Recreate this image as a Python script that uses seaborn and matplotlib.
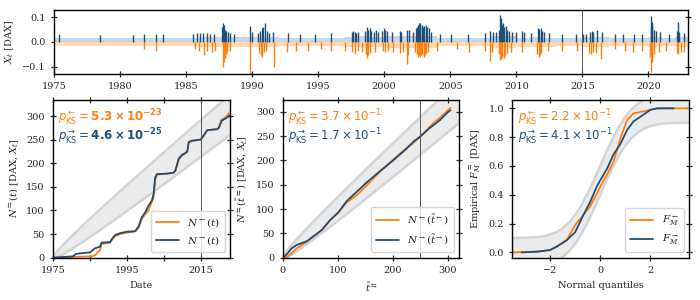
import numpy as np
import pandas as pd
import matplotlib
matplotlib.use("Agg")
import matplotlib.pyplot as plt
import seaborn as sns

# ---------------- data ----------------
ORANGE = "#ff7f0e"
BLUE = "#1f4e79"
LBLUE = "#c9d7e3"
LORANGE = "#ffdab5"

# top panel: exceedance events
pos_years = [1975.35, 1978.45, 1980.95, 1981.85, 1982.75, 1983.25, 1985.55, 1985.8, 1986.05, 1986.3,
             1986.55, 1986.8, 1987.1, 1987.75, 1987.82, 1987.9, 1987.98, 1988.05, 1988.15, 1988.35,
             1988.6, 1989.85, 1990.0, 1990.45, 1990.6, 1990.75, 1990.85, 1991.0, 1991.1, 1991.3,
             1991.6, 1992.75, 1993.65, 1994.75, 1995.95, 1997.55, 1997.65, 1997.8, 1997.9, 1998.0,
             1998.55, 1998.7, 1998.8, 1998.9, 1999.0, 1999.2, 1999.35, 1999.5, 1999.85, 1999.95,
             2000.1, 2000.25, 2000.6, 2001.2, 2001.3, 2001.75, 2001.85, 2002.2, 2002.4, 2002.5,
             2002.55, 2002.6, 2002.7, 2002.75, 2002.85, 2002.95, 2003.05, 2003.15, 2003.25, 2003.4,
             2003.55, 2004.25, 2005.05, 2006.35, 2007.6, 2008.05, 2008.25, 2008.5, 2008.7, 2008.78,
             2008.83, 2008.88, 2008.95, 2009.0, 2009.1, 2009.2, 2009.3, 2009.45, 2009.7, 2010.0,
             2010.4, 2010.6, 2011.1, 2011.65, 2011.75, 2011.85, 2011.95, 2012.1, 2012.5, 2013.5,
             2014.55, 2015.05, 2015.25, 2015.6, 2015.7, 2015.8, 2016.1, 2016.5, 2017.5, 2018.1,
             2018.95, 2019.55, 2020.2, 2020.22, 2020.26, 2020.3, 2020.4, 2020.55, 2020.85, 2021.55,
             2022.15, 2022.22, 2022.3, 2022.7]
pos_vals = [.030, .028, .027, .033, .030, .030, .033, .036, .035, .034,
            .036, .030, .032, .060, .075, .068, .050, .045, .038, .034,
            .032, .066, .040, .035, .045, .055, .060, .075, .045, .035,
            .040, .035, .032, .030, .035, .038, .042, .040, .036, .040,
            .045, .060, .050, .055, .045, .040, .050, .038, .045, .055,
            .050, .045, .040, .045, .040, .050, .048, .040, .055, .060,
            .070, .075, .065, .075, .070, .060, .065, .070, .060, .055,
            .040, .030, .030, .030, .035, .045, .040, .040, .050, .108,
            .095, .080, .070, .075, .060, .065, .050, .045, .040, .040,
            .045, .040, .035, .055, .052, .055, .045, .040, .035, .030,
            .030, .030, .032, .040, .045, .038, .050, .040, .030, .032,
            .032, .030, .060, .105, .080, .065, .050, .045, .040, .030,
            .045, .080, .040, .035]
neg_years = [1981.85, 1982.75, 1985.7, 1986.0, 1986.35, 1986.6, 1987.0, 1987.2, 1987.78, 1987.85,
             1987.92, 1988.0, 1988.1, 1988.3, 1989.82, 1990.55, 1990.65, 1990.75, 1990.9, 1991.05,
             1991.65, 1992.65, 1993.35, 1994.2, 1995.2, 1996.0, 1997.0, 1997.55, 1997.8, 1998.0,
             1998.3, 1998.6, 1998.7, 1998.8, 1998.9, 1999.3, 1999.9, 2000.05, 2000.3, 2000.7,
             2001.2, 2001.4, 2001.72, 2001.8, 2002.3, 2002.45, 2002.55, 2002.6, 2002.7, 2002.8,
             2002.9, 2003.0, 2003.1, 2003.2, 2003.35, 2004.0, 2005.5, 2006.4, 2007.6, 2008.05,
             2008.2, 2008.7, 2008.77, 2008.85, 2008.95, 2009.05, 2009.15, 2009.3, 2009.6, 2010.4,
             2011.6, 2011.7, 2011.8, 2011.9, 2012.4, 2013.5, 2014.6, 2015.5, 2015.65, 2015.8,
             2016.05, 2016.45, 2017.5, 2018.2, 2018.85, 2019.5, 2020.15, 2020.2, 2020.25, 2020.3,
             2020.45, 2020.8, 2021.3, 2022.15, 2022.25, 2022.45, 2022.7]
neg_vals = [-.030, -.036, -.030, -.035, -.055, -.035, -.040, -.035, -.100, -.080,
            -.065, -.050, -.040, -.035, -.130, -.045, -.055, -.060, -.040, -.035,
            -.100, -.040, -.035, -.035, -.030, -.035, -.035, -.040, -.048, -.035,
            -.040, -.050, -.065, -.055, -.045, -.040, -.035, -.040, -.035, -.040,
            -.045, -.040, -.090, -.055, -.040, -.050, -.060, -.055, -.060, -.055,
            -.050, -.060, -.055, -.045, -.040, -.035, -.030, -.040, -.035, -.078,
            -.040, -.050, -.075, -.070, -.060, -.065, -.055, -.045, -.040, -.040,
            -.050, -.060, -.055, -.045, -.035, -.035, -.035, -.045, -.050, -.040,
            -.045, -.068, -.030, -.035, -.040, -.035, -.060, -.120, -.080, -.060,
            -.050, -.040, -.035, -.045, -.050, -.040, -.040]

# background (sub-threshold) amplitude per year
bg_years = list(range(1975, 2024))
bg_pos = [.016, .016, .016, .016, .016, .016, .016, .016, .016, .016, .016,
          .018, .020, .018, .018, .020, .020, .016, .016, .016, .015, .015,
          .020, .022, .020, .022, .022, .025, .022, .016, .014, .015, .016,
          .024, .022, .017, .020, .017, .015, .015, .018, .018, .014, .016,
          .015, .020, .016, .018, .018]
bg_neg = [-.018, -.018, -.018, -.018, -.018, -.018, -.018, -.018, -.018, -.018, -.018,
          -.020, -.022, -.020, -.020, -.022, -.022, -.018, -.018, -.018, -.017, -.017,
          -.022, -.024, -.022, -.024, -.024, -.026, -.024, -.018, -.016, -.017, -.018,
          -.026, -.024, -.019, -.022, -.019, -.017, -.017, -.020, -.020, -.016, -.018,
          -.017, -.022, -.018, -.020, -.020]

# bottom-left: counting processes vs date
nl_years_or = [1975, 1982, 1985.5, 1986.4, 1987.2, 1987.7, 1988.2, 1990.5, 1991.0, 1991.8, 1993.2, 1995.0,
               1997.3, 1997.8, 1998.2, 1999.1, 2000.0, 2000.9, 2001.8, 2002.3, 2002.7, 2003.2, 2005.9,
               2007.7, 2008.2, 2009.1, 2010.0, 2010.9, 2011.4, 2011.8, 2012.7, 2015.0, 2015.5, 2016.4,
               2016.8, 2019.5, 2020.0, 2020.7, 2021.8, 2022.9]
nl_vals_or = [0, 2, 3, 5, 12, 15, 29, 32, 38, 45, 50, 53,
              56, 60, 63, 82, 92, 100, 118, 128, 165, 176, 178,
              180, 184, 208, 216, 221, 224, 243, 247, 250, 254, 265,
              270, 273, 277, 292, 297, 308]
nl_years_bl = [1975, 1980.5, 1981.2, 1983.2, 1985.0, 1986.4, 1987.7, 1988.2, 1990.5, 1991.0, 1991.8, 1993.2,
               1995.0, 1997.3, 1997.8, 1998.2, 1999.1, 2000.0, 2000.9, 2001.8, 2002.3, 2002.7, 2003.2,
               2005.9, 2007.7, 2008.2, 2009.1, 2010.0, 2010.9, 2011.4, 2011.8, 2012.7, 2015.0, 2015.5,
               2016.4, 2016.8, 2019.5, 2020.0, 2020.7, 2021.8, 2022.9]
nl_vals_bl = [0, 3, 8, 10, 11, 20, 23, 32, 33, 40, 48, 52,
              55, 56, 62, 66, 86, 96, 110, 121, 136, 170, 177,
              178, 180, 185, 210, 218, 222, 225, 245, 248, 250, 255,
              265, 270, 272, 275, 290, 295, 301]
band_l_years = [1975, 1975.25, 1975.5, 1976, 1977, 1978, 1980, 1983, 1986, 1990, 1995, 2000, 2005, 2010, 2015, 2020, 2023]
band_l_up = [0, 4.6, 7.5, 12.45, 21.3, 29.55, 45.25, 67.8, 89.7, 118.3, 153.5, 188.2, 222.7, 256.9, 290.9, 324.8, 345.0]
band_l_lo = [0, 0, 0, 0.15, 3.9, 8.25, 17.75, 33.0, 48.9, 70.7, 98.5, 126.8, 155.3, 184.1, 213.1, 242.2, 259.8]

# bottom-middle: counting processes vs transformed time
nm_t_or = [0, 8, 15, 25, 44, 71, 86, 101, 116, 135, 153, 177, 201, 225, 238, 250, 268, 286, 301, 305]
nm_n_or = [0, 2, 8, 19, 33, 57, 77, 93, 113, 129, 149, 177, 202, 225, 236, 249, 270, 288, 304, 308]
nm_t_bl = [0, 8, 16, 25, 44, 71, 86, 101, 116, 135, 153, 177, 201, 225, 238, 250, 268, 286, 301, 305]
nm_n_bl = [0, 8, 19, 26, 34, 57, 77, 93, 116, 136, 155, 178, 200, 224, 239, 249, 267, 283, 300, 303]
band_m_t = [0, 2, 5, 10, 20, 40, 70, 100, 150, 200, 250, 300, 330]
band_m_up = [0, 5.46, 10.48, 17.75, 30.96, 55.5, 90.5, 124.5, 180, 234.6, 288.7, 342.4, 374.5]
band_m_lo = [0, 0, 0, 2.25, 9.04, 24.5, 49.5, 75.5, 120, 165.4, 211.3, 257.6, 285.5]

# bottom-right: empirical CDF of marks vs normal quantiles
q_or = [-3.47, -2.5, -2.0, -1.73, -1.33, -1.0, -0.67, -0.4, -0.13, 0.0, 0.27, 0.53, 0.8, 1.07, 1.33, 1.67, 2.0, 2.27, 3.55]
f_or = [0.0, 0.005, 0.016, 0.04, 0.085, 0.19, 0.26, 0.32, 0.41, 0.456, 0.54, 0.63, 0.79, 0.92, 0.965, 0.977, 0.99, 1.0, 1.0]
q_bl = [-3.13, -2.5, -2.0, -1.73, -1.33, -1.0, -0.67, -0.4, -0.13, 0.0, 0.27, 0.53, 0.8, 1.07, 1.33, 1.67, 2.0, 2.27, 2.93]
f_bl = [0.0, 0.005, 0.016, 0.04, 0.085, 0.14, 0.26, 0.35, 0.46, 0.50, 0.58, 0.68, 0.75, 0.85, 0.91, 0.95, 0.99, 1.0, 1.0]
band_r_q = [-3.5, -3.25, -3.0, -2.75, -2.5, -2.25, -2.0, -1.75, -1.5, -1.25, -1.0, -0.75, -0.5, -0.25, 0.0,
            0.25, 0.5, 0.75, 1.0, 1.25, 1.5, 1.75, 2.0, 2.25, 2.5, 2.75, 3.0, 3.25, 3.5]
band_r_mid = [0.0002, 0.0006, 0.0013, 0.0030, 0.0062, 0.0122, 0.0228, 0.0401, 0.0668, 0.1056, 0.1587, 0.2266,
              0.3085, 0.4013, 0.5, 0.5987, 0.6915, 0.7734, 0.8413, 0.8944, 0.9332, 0.9599, 0.9772, 0.9878,
              0.9938, 0.9970, 0.9987, 0.9994, 0.9998]
band_r_half = 0.1

p_texts = [
    (r"$p^{\leftarrow}_{\mathrm{KS}} = \mathbf{5.3\times10^{-23}}$", r"$p^{\rightarrow}_{\mathrm{KS}} = \mathbf{4.6\times10^{-25}}$"),
    (r"$p^{\leftarrow}_{\mathrm{KS}} = 3.7\times10^{-1}$", r"$p^{\rightarrow}_{\mathrm{KS}} = 1.7\times10^{-1}$"),
    (r"$p^{\leftarrow}_{\mathrm{KS}} = 2.2\times10^{-1}$", r"$p^{\rightarrow}_{\mathrm{KS}} = 4.1\times10^{-1}$"),
]

# ---------------- style ----------------
sns.set_theme(style="ticks")
plt.rcParams.update({
    "font.family": ["DejaVu Serif"],
    "mathtext.fontset": "dejavuserif",
    "font.size": 7,
    "axes.linewidth": 1.0,
    "axes.edgecolor": "black",
    "xtick.direction": "inout",
    "ytick.direction": "inout",
    "xtick.major.size": 5,
    "ytick.major.size": 5,
    "xtick.major.width": 0.9,
    "ytick.major.width": 0.9,
    "xtick.labelsize": 7,
    "ytick.labelsize": 7,
    "axes.labelsize": 7,
    "legend.fontsize": 7.5,
})

fig = plt.figure(figsize=(7, 3), dpi=100)
ax0 = fig.add_axes([0.0771, 0.7533, 0.9057, 0.2143])
axL = fig.add_axes([0.0757, 0.141, 0.2529, 0.5257])
axM = fig.add_axes([0.4039, 0.141, 0.2523, 0.5257])
axR = fig.add_axes([0.7319, 0.141, 0.2529, 0.5257])

# ---- top panel ----
ax0.fill_between(bg_years, 0, bg_pos, step="post", color=LBLUE, lw=0)
ax0.fill_between(bg_years, 0, bg_neg, step="post", color=LORANGE, lw=0)
ax0.vlines(pos_years, 0, pos_vals, color=BLUE, lw=1.0)
ax0.vlines(neg_years, 0, neg_vals, color=ORANGE, lw=1.0)
ax0.axvline(2015, color="#555555", lw=0.7)
ax0.set_xlim(1975, 2023)
ax0.set_ylim(-0.13, 0.13)
ax0.set_yticks([-0.1, 0.0, 0.1])
ax0.set_xticks(list(range(1975, 2021, 5)))
ax0.set_ylabel(r"$X_t$ [DAX]")
ax0.tick_params(left=True, right=True, top=False, bottom=True)

def band(ax, x, lo, up):
    ax.fill_between(x, lo, up, color="#ebebeb", lw=0, zorder=0)
    ax.plot(x, lo, color="#d4d4d4", lw=1.8, zorder=0.5)
    ax.plot(x, up, color="#d4d4d4", lw=1.8, zorder=0.5)

def curves(ax, x1, y1, x2, y2, l1, l2):
    d1 = pd.DataFrame({"x": x1, "y": y1})
    d2 = pd.DataFrame({"x": x2, "y": y2})
    sns.lineplot(data=d1, x="x", y="y", color=ORANGE, lw=1.3, sort=False, estimator=None, ax=ax, label=l1)
    sns.lineplot(data=d2, x="x", y="y", color=BLUE, lw=1.3, sort=False, estimator=None, ax=ax, label=l2)
    ax.legend(loc="lower right", frameon=True, fancybox=True, framealpha=0.8,
              edgecolor="#cccccc", handlelength=2.2, borderpad=0.5)

def ptext(ax, pair):
    ax.text(0.03, 0.95, pair[0], transform=ax.transAxes, color=ORANGE, fontsize=8.5,
            va="top", ha="left", family="DejaVu Sans", math_fontfamily="dejavusans")
    ax.text(0.03, 0.83, pair[1], transform=ax.transAxes, color=BLUE, fontsize=8.5,
            va="top", ha="left", family="DejaVu Sans", math_fontfamily="dejavusans")

for ax in (axL, axM, axR):
    ax.tick_params(left=True, right=True, top=True, bottom=True)

# ---- bottom-left ----
band(axL, band_l_years, band_l_lo, band_l_up)
curves(axL, nl_years_or, nl_vals_or, nl_years_bl, nl_vals_bl, r"$N^{\leftarrow}(t)$", r"$N^{\rightarrow}(t)$")
axL.axvline(2015, color="#555555", lw=0.7)
axL.set_xlim(1975, 2023)
axL.set_ylim(0, 334)
axL.set_xticks([1975, 1985, 1995, 2005, 2015])
axL.set_xticklabels(["1975", "", "1995", "", "2015"])
axL.set_yticks([0, 50, 100, 150, 200, 250, 300])
axL.set_xlabel("Date")
axL.set_ylabel(r"$N^{\leftrightarrows}(t)$ [DAX, $X_t$]")
ptext(axL, p_texts[0])

# ---- bottom-middle ----
band(axM, band_m_t, band_m_lo, band_m_up)
curves(axM, nm_t_or, nm_n_or, nm_t_bl, nm_n_bl,
       r"$N^{\leftarrow}(\tilde{t}^{\leftarrow})$", r"$N^{\rightarrow}(\tilde{t}^{\rightarrow})$")
axM.axvline(250, color="#555555", lw=0.7)
axM.set_xlim(0, 321)
axM.set_ylim(0, 324)
axM.set_xticks([0, 100, 200, 300])
axM.set_yticks([0, 50, 100, 150, 200, 250, 300])
axM.set_xlabel(r"$\tilde{t}^{\leftrightarrows}$")
axM.set_ylabel(r"$N^{\leftrightarrows}(\tilde{t}^{\leftrightarrows})$ [DAX, $X_t$]")
ptext(axM, p_texts[1])

# ---- bottom-right ----
mid = np.array(band_r_mid)
band(axR, band_r_q, mid - band_r_half, mid + band_r_half)
curves(axR, q_or, f_or, q_bl, f_bl, r"$F_M^{\leftarrow}$", r"$F_M^{\rightarrow}$")
axR.set_xlim(-3.5, 3.55)
axR.set_ylim(-0.037, 1.058)
axR.set_xticks([-2, 0, 2])
axR.set_yticks([0.0, 0.2, 0.4, 0.6, 0.8, 1.0])
axR.set_xlabel("Normal quantiles")
axR.set_ylabel(r"Empirical $F_M^{\leftrightarrows}$ [DAX]")
ptext(axR, p_texts[2])

fig.savefig("out.png", dpi=100)
